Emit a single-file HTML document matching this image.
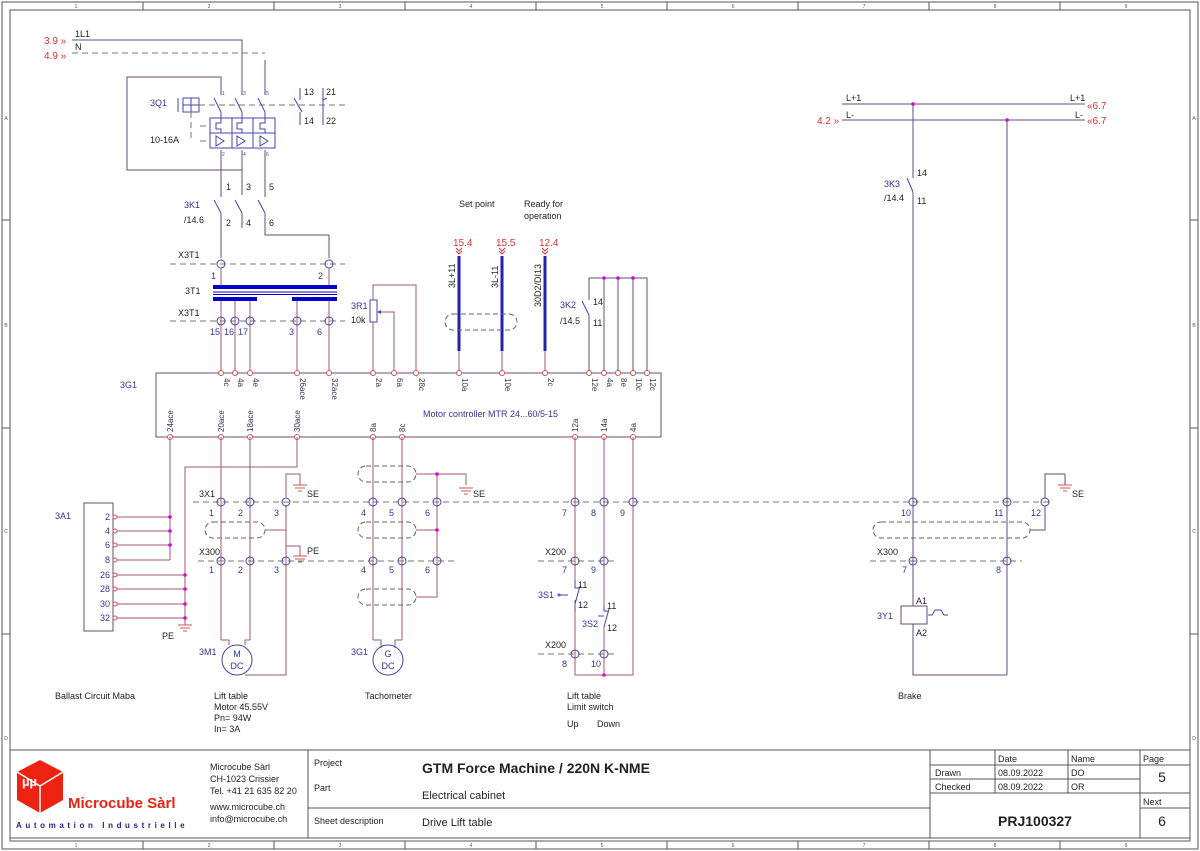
<!DOCTYPE html>
<html><head><meta charset="utf-8"><style>
body{margin:0;background:#fff}
svg{display:block;font-family:"Liberation Sans",Arial,sans-serif}
.w{stroke:#a05a70;stroke-width:1;fill:none}
.p{stroke:#6a4a7a;stroke-width:1;fill:none}
.d{stroke:#777;stroke-width:1;stroke-dasharray:6,4;fill:none}
.t{fill:#222;font-size:9px}
.b{fill:#33339a;font-size:9px}
.r{fill:#d33;font-size:10px}
.k{fill:none;stroke:#44a;stroke-width:1}
.o{fill:none;stroke:#666;stroke-dasharray:5,3}
.dot{fill:#d0d}
.f{fill:none;stroke:#555;stroke-width:1}
</style></head><body>
<svg width="1200" height="851" viewBox="0 0 1200 851">
<!-- frame -->
<rect x="2" y="2" width="1196" height="847" class="f"/>
<rect x="10" y="10" width="1180" height="831" class="f"/>
<g class="f">
<line x1="143" y1="2" x2="143" y2="10"/><line x1="274" y1="2" x2="274" y2="10"/><line x1="405" y1="2" x2="405" y2="10"/><line x1="536" y1="2" x2="536" y2="10"/><line x1="667" y1="2" x2="667" y2="10"/><line x1="798" y1="2" x2="798" y2="10"/><line x1="929" y1="2" x2="929" y2="10"/><line x1="1060" y1="2" x2="1060" y2="10"/>
<line x1="143" y1="841" x2="143" y2="849"/><line x1="274" y1="841" x2="274" y2="849"/><line x1="405" y1="841" x2="405" y2="849"/><line x1="536" y1="841" x2="536" y2="849"/><line x1="667" y1="841" x2="667" y2="849"/><line x1="798" y1="841" x2="798" y2="849"/><line x1="929" y1="841" x2="929" y2="849"/><line x1="1060" y1="841" x2="1060" y2="849"/>
<line x1="2" y1="220" x2="10" y2="220"/><line x1="2" y1="428" x2="10" y2="428"/><line x1="2" y1="634" x2="10" y2="634"/>
<line x1="1190" y1="220" x2="1198" y2="220"/><line x1="1190" y1="428" x2="1198" y2="428"/><line x1="1190" y1="634" x2="1198" y2="634"/>
</g>
<g font-size="5" fill="#555" text-anchor="middle">
<text x="76" y="8">1</text><text x="209" y="8">2</text><text x="340" y="8">3</text><text x="471" y="8">4</text><text x="602" y="8">5</text><text x="733" y="8">6</text><text x="864" y="8">7</text><text x="995" y="8">8</text><text x="1126" y="8">9</text>
<text x="76" y="847">1</text><text x="209" y="847">2</text><text x="340" y="847">3</text><text x="471" y="847">4</text><text x="602" y="847">5</text><text x="733" y="847">6</text><text x="864" y="847">7</text><text x="995" y="847">8</text><text x="1126" y="847">9</text>
<text x="6" y="120">A</text><text x="6" y="327">B</text><text x="6" y="533">C</text><text x="6" y="740">D</text>
<text x="1194" y="120">A</text><text x="1194" y="327">B</text><text x="1194" y="533">C</text><text x="1194" y="740">D</text>
</g>

<!-- top supply -->
<text class="r" x="44" y="44">3.9 »</text><text class="r" x="44" y="59">4.9 »</text>
<text class="t" x="75" y="37">1L1</text><text class="t" x="75" y="50">N</text>
<polyline class="p" points="72,40 242,40 242,90"/>
<polyline class="d" points="72,53 265,53"/><line class="p" x1="265" y1="60" x2="265" y2="90"/>
<polyline class="p" points="221,90 221,77 127,77 127,170 242,170 242,150"/>
<text class="b" x="150" y="106">3Q1</text><text class="t" x="150" y="143">10-16A</text>
<rect x="183" y="98" width="16" height="14" class="k"/><line x1="191" y1="98" x2="191" y2="112" class="k"/><line x1="183" y1="105" x2="199" y2="105" class="k"/><line x1="178" y1="98" x2="178" y2="112" class="k"/>
<line class="d" x1="199" y1="105" x2="345" y2="105"/>
<line class="d" x1="191" y1="112" x2="191" y2="141"/>
<g class="k">
<line x1="221" y1="90" x2="221" y2="95"/><line x1="214" y1="98" x2="221" y2="112"/><line x1="221" y1="112" x2="221" y2="118"/>
<line x1="242" y1="90" x2="242" y2="95"/><line x1="235" y1="98" x2="242" y2="112"/><line x1="242" y1="112" x2="242" y2="118"/>
<line x1="265" y1="90" x2="265" y2="95"/><line x1="258" y1="98" x2="265" y2="112"/><line x1="265" y1="112" x2="265" y2="118"/>
<rect x="210" y="118" width="65" height="30"/><line x1="210" y1="133" x2="275" y2="133"/><line x1="232" y1="118" x2="232" y2="148"/><line x1="253" y1="118" x2="253" y2="148"/>
<path d="M221 118v5h-5v6h5v4M242 118v5h-5v6h5v4M265 118v5h-5v6h5v4"/>
<path d="M216 136l8 5-8 5zM237 136l8 5-8 5zM260 136l8 5-8 5z"/>
<line x1="300" y1="88" x2="300" y2="100"/><line x1="294" y1="98" x2="302" y2="112"/><line x1="300" y1="112" x2="300" y2="125"/>
<line x1="323" y1="88" x2="323" y2="125"/><line x1="323" y1="100" x2="327" y2="98"/>
</g>
<line class="d" x1="200" y1="126" x2="210" y2="126"/><line class="d" x1="200" y1="141" x2="210" y2="141"/>
<g font-size="5" fill="#44a"><text x="222" y="95">1</text><text x="243" y="95">3</text><text x="266" y="95">5</text><text x="222" y="156">2</text><text x="243" y="156">4</text><text x="266" y="156">6</text></g>
<text class="t" x="304" y="95">13</text><text class="t" x="326" y="95">21</text><text class="t" x="304" y="124">14</text><text class="t" x="326" y="124">22</text>
<!-- 3K1 -->
<line class="p" x1="221" y1="150" x2="221" y2="197"/><line class="p" x1="242" y1="150" x2="242" y2="195"/><line class="p" x1="265" y1="150" x2="265" y2="197"/>
<g class="k"><line x1="214" y1="200" x2="221" y2="213"/><line x1="235" y1="200" x2="242" y2="213"/><line x1="258" y1="200" x2="265" y2="213"/></g>
<line class="p" x1="221" y1="213" x2="221" y2="258"/><line class="p" x1="242" y1="213" x2="242" y2="228"/>
<polyline class="p" points="265,213 265,235 329,235 329,258"/>
<text class="t" x="226" y="190">1</text><text class="t" x="246" y="190">3</text><text class="t" x="269" y="190">5</text>
<text class="t" x="226" y="226">2</text><text class="t" x="246" y="226">4</text><text class="t" x="269" y="226">6</text>
<text class="b" x="184" y="208">3K1</text><text class="t" x="184" y="223">/14.6</text>
<!-- X3T1 -->
<text class="t" x="178" y="258">X3T1</text>
<line class="d" x1="170" y1="264" x2="345" y2="264"/>
<circle cx="221" cy="264" r="4" fill="#fff" class="k"/><circle cx="329" cy="264" r="4" fill="#fff" class="k"/>
<text class="b" x="211" y="279">1</text><text class="b" x="318" y="279">2</text>
<text class="t" x="185" y="294">3T1</text>
<rect x="213" y="285" width="124" height="4" fill="#00c"/>
<line x1="213" y1="292" x2="337" y2="292" stroke="#00c"/><line x1="213" y1="294.5" x2="337" y2="294.5" stroke="#00c"/>
<rect x="213" y="297" width="44" height="4" fill="#00c"/><rect x="292" y="297" width="45" height="4" fill="#00c"/>
<line class="w" x1="221" y1="268" x2="221" y2="285"/><line class="w" x1="329" y1="268" x2="329" y2="285"/>
<text class="t" x="178" y="316">X3T1</text>
<line class="d" x1="170" y1="321" x2="345" y2="321"/>
<g class="w"><line x1="221" y1="301" x2="221" y2="373"/><line x1="235" y1="301" x2="235" y2="373"/><line x1="250" y1="301" x2="250" y2="373"/><line x1="297" y1="301" x2="297" y2="373"/><line x1="329" y1="301" x2="329" y2="373"/></g>
<g fill="#fff" class="k"><circle cx="221" cy="321" r="4"/><circle cx="235" cy="321" r="4"/><circle cx="250" cy="321" r="4"/><circle cx="297" cy="321" r="4"/><circle cx="329" cy="321" r="4"/></g>
<g class="b"><text x="210" y="335">15</text><text x="224" y="335">16</text><text x="238" y="335">17</text><text x="289" y="335">3</text><text x="317" y="335">6</text></g>
<!-- 3R1 -->
<text class="b" x="351" y="309">3R1</text><text class="t" x="351" y="323">10k</text>
<rect x="370" y="300" width="7" height="22" class="k"/>
<polyline class="w" points="373,300 373,285 416,285 416,373"/>
<line class="w" x1="373" y1="322" x2="373" y2="373"/>
<polyline class="w" points="379,312 394,312 394,373"/><path d="M377 312l4-2v4z" fill="#44a"/>
<!-- 3G1 -->
<rect x="156" y="373" width="505" height="64" class="p"/>
<text class="b" x="120" y="388" font-size="10">3G1</text>
<text class="b" x="423" y="417">Motor controller MTR 24...60/5-15</text>
<g fill="#fff" stroke="#c55" stroke-width="1">
<circle cx="221" cy="373" r="2.5"/><circle cx="235" cy="373" r="2.5"/><circle cx="250" cy="373" r="2.5"/><circle cx="297" cy="373" r="2.5"/><circle cx="329" cy="373" r="2.5"/><circle cx="373" cy="373" r="2.5"/><circle cx="394" cy="373" r="2.5"/><circle cx="416" cy="373" r="2.5"/><circle cx="459" cy="373" r="2.5"/><circle cx="502" cy="373" r="2.5"/><circle cx="545" cy="373" r="2.5"/><circle cx="589" cy="373" r="2.5"/><circle cx="604" cy="373" r="2.5"/><circle cx="618" cy="373" r="2.5"/><circle cx="633" cy="373" r="2.5"/><circle cx="647" cy="373" r="2.5"/>
<circle cx="170" cy="437" r="2.5"/><circle cx="221" cy="437" r="2.5"/><circle cx="250" cy="437" r="2.5"/><circle cx="297" cy="437" r="2.5"/><circle cx="373" cy="437" r="2.5"/><circle cx="402" cy="437" r="2.5"/><circle cx="575" cy="437" r="2.5"/><circle cx="604" cy="437" r="2.5"/><circle cx="633" cy="437" r="2.5"/>
</g>
<g font-size="8" fill="#335">
<text transform="translate(224,378) rotate(90)">4c</text><text transform="translate(238,378) rotate(90)">4a</text><text transform="translate(253,378) rotate(90)">4e</text><text transform="translate(300,378) rotate(90)">26ace</text><text transform="translate(332,378) rotate(90)">32ace</text><text transform="translate(376,378) rotate(90)">2a</text><text transform="translate(397,378) rotate(90)">6a</text><text transform="translate(419,378) rotate(90)">28c</text><text transform="translate(462,378) rotate(90)">10a</text><text transform="translate(505,378) rotate(90)">10e</text><text transform="translate(548,378) rotate(90)">2c</text><text transform="translate(592,378) rotate(90)">12e</text><text transform="translate(607,378) rotate(90)">4a</text><text transform="translate(621,378) rotate(90)">8e</text><text transform="translate(636,378) rotate(90)">10c</text><text transform="translate(650,378) rotate(90)">12c</text>
<text transform="translate(173,432) rotate(-90)">24ace</text><text transform="translate(224,432) rotate(-90)">20ace</text><text transform="translate(253,432) rotate(-90)">18ace</text><text transform="translate(300,432) rotate(-90)">30ace</text><text transform="translate(376,432) rotate(-90)">8a</text><text transform="translate(405,432) rotate(-90)">8c</text><text transform="translate(578,432) rotate(-90)">12a</text><text transform="translate(607,432) rotate(-90)">14a</text><text transform="translate(636,432) rotate(-90)">4a</text>
</g>
<!-- set points -->
<text class="t" x="459" y="207">Set point</text><text class="t" x="524" y="207">Ready for</text><text class="t" x="524" y="219">operation</text>
<text class="r" x="453" y="246">15.4</text><text class="r" x="496" y="246">15.5</text><text class="r" x="539" y="246">12.4</text>
<g fill="none" stroke="#d33"><path d="M456 248l3 3 3-3M456 251l3 3 3-3M499 248l3 3 3-3M499 251l3 3 3-3M542 248l3 3 3-3M542 251l3 3 3-3"/></g>
<rect x="457.5" y="256" width="3" height="95" fill="#22a"/><rect x="500.5" y="256" width="3" height="95" fill="#22a"/><rect x="543.5" y="256" width="3" height="95" fill="#22a"/>
<g class="w"><line x1="459" y1="351" x2="459" y2="371"/><line x1="502" y1="351" x2="502" y2="371"/><line x1="545" y1="351" x2="545" y2="371"/></g>
<g font-size="9" fill="#222"><text transform="translate(455,288) rotate(-90)">3L+11</text><text transform="translate(498,288) rotate(-90)">3L-11</text><text transform="translate(541,307) rotate(-90)">30D2/DI13</text></g>
<rect x="445" y="314" width="72" height="16" rx="8" class="o"/>
<!-- 3K2 -->
<polyline class="p" points="589,371 589,278 647,278 647,371"/>
<line class="p" x1="604" y1="278" x2="604" y2="371"/><line class="p" x1="618" y1="278" x2="618" y2="371"/><line class="p" x1="633" y1="278" x2="633" y2="371"/>
<rect x="586" y="300" width="6" height="22" fill="#fff"/><line class="k" x1="582" y1="301" x2="589" y2="315"/>
<line class="p" x1="589" y1="315" x2="589" y2="322"/>
<circle class="dot" cx="604" cy="278" r="1.8"/><circle class="dot" cx="618" cy="278" r="1.8"/><circle class="dot" cx="633" cy="278" r="1.8"/>
<text class="b" x="560" y="308">3K2</text><text class="t" x="560" y="324">/14.5</text><text class="t" x="593" y="305">14</text><text class="t" x="593" y="326">11</text>
<!-- bottom wiring -->
<g class="w">
<line x1="170" y1="437" x2="170" y2="560"/>
<line x1="221" y1="437" x2="221" y2="640"/><line x1="250" y1="437" x2="250" y2="640"/>
<polyline points="297,437 297,467 185,467 185,625"/>
<line x1="373" y1="437" x2="373" y2="640"/><line x1="402" y1="437" x2="402" y2="640"/>
<line x1="575" y1="437" x2="575" y2="580"/><line x1="604" y1="437" x2="604" y2="605"/>
<polyline points="633,437 633,675 575,675 575,600"/>
<polyline points="221,640 229,640 229,645"/><polyline points="250,640 245,640 245,645"/>
<polyline points="286,505 286,675 245,675"/>
<polyline points="286,497 286,474 300,474 300,485"/>
<polyline points="286,556 286,546 300,546 300,556"/>
<polyline points="265,530 286,530"/>
<polyline points="373,640 381,640 381,648"/><polyline points="402,640 395,640 395,648"/>
<polyline points="416,474 437,474 437,597 416,597"/><line x1="416" y1="530" x2="437" y2="530"/>
<polyline points="437,474 466,474 466,485"/>
<line x1="604" y1="628" x2="604" y2="675"/>
</g>
<!-- 3A1 -->
<text class="b" x="55" y="519">3A1</text>
<rect x="84" y="503" width="29" height="128" class="p"/>
<g class="w"><line x1="116" y1="517" x2="170" y2="517"/><line x1="116" y1="531" x2="170" y2="531"/><line x1="116" y1="545" x2="170" y2="545"/><line x1="116" y1="560" x2="170" y2="560"/><line x1="116" y1="575" x2="185" y2="575"/><line x1="116" y1="589" x2="185" y2="589"/><line x1="116" y1="604" x2="185" y2="604"/><line x1="116" y1="618" x2="185" y2="618"/></g>
<g fill="#fff" stroke="#c55"><circle cx="115" cy="517" r="2"/><circle cx="115" cy="531" r="2"/><circle cx="115" cy="545" r="2"/><circle cx="115" cy="560" r="2"/><circle cx="115" cy="575" r="2"/><circle cx="115" cy="589" r="2"/><circle cx="115" cy="604" r="2"/><circle cx="115" cy="618" r="2"/></g>
<g class="dot"><circle cx="170" cy="517" r="1.8"/><circle cx="170" cy="531" r="1.8"/><circle cx="170" cy="545" r="1.8"/><circle cx="185" cy="575" r="1.8"/><circle cx="185" cy="589" r="1.8"/><circle cx="185" cy="604" r="1.8"/><circle cx="185" cy="618" r="1.8"/><circle cx="437" cy="474" r="1.8"/><circle cx="437" cy="530" r="1.8"/><circle cx="604" cy="675" r="1.8"/></g>
<g class="b" text-anchor="end" font-size="8"><text x="110" y="520">2</text><text x="110" y="534">4</text><text x="110" y="548">6</text><text x="110" y="563">8</text><text x="110" y="578">26</text><text x="110" y="592">28</text><text x="110" y="607">30</text><text x="110" y="621">32</text></g>
<!-- grounds -->
<g stroke="#c55" fill="none"><path d="M178 625h14M180 628h10M183 631h4"/><path d="M293 485h14M295 488h10M298 491h4"/><path d="M293 556h14M295 559h10M298 562h4"/><path d="M459 488h14M461 491h10M464 494h4"/><path d="M1058 485h14M1060 488h10M1063 491h4"/></g>
<text class="t" x="162" y="639">PE</text><text class="t" x="307" y="497">SE</text><text class="t" x="307" y="554">PE</text><text class="t" x="473" y="497">SE</text><text class="t" x="1072" y="497">SE</text>
<!-- terminal rows -->
<text class="t" x="199" y="497">3X1</text>
<line class="d" x1="193" y1="502" x2="1052" y2="502"/>
<text class="t" x="199" y="555">X300</text><line class="d" x1="198" y1="561" x2="455" y2="561"/>
<text class="t" x="545" y="555">X200</text><line class="d" x1="538" y1="561" x2="616" y2="561"/>
<text class="t" x="877" y="555">X300</text><line class="d" x1="870" y1="561" x2="1022" y2="561"/>
<text class="t" x="545" y="648">X200</text><line class="d" x1="538" y1="654" x2="616" y2="654"/>
<g fill="#fff" class="k">
<circle cx="221" cy="502" r="4"/><circle cx="250" cy="502" r="4"/><circle cx="286" cy="502" r="4"/><circle cx="373" cy="502" r="4"/><circle cx="402" cy="502" r="4"/><circle cx="437" cy="502" r="4"/><circle cx="575" cy="502" r="4"/><circle cx="604" cy="502" r="4"/><circle cx="633" cy="502" r="4"/><circle cx="913" cy="502" r="4"/><circle cx="1007" cy="502" r="4"/><circle cx="1045" cy="502" r="4"/>
<circle cx="221" cy="561" r="4"/><circle cx="250" cy="561" r="4"/><circle cx="286" cy="561" r="4"/><circle cx="373" cy="561" r="4"/><circle cx="402" cy="561" r="4"/><circle cx="437" cy="561" r="4"/><circle cx="575" cy="561" r="4"/><circle cx="604" cy="561" r="4"/><circle cx="913" cy="561" r="4"/><circle cx="1007" cy="561" r="4"/>
<circle cx="575" cy="654" r="4"/><circle cx="604" cy="654" r="4"/>
</g>
<g class="b"><text x="209" y="516">1</text><text x="238" y="516">2</text><text x="274" y="516">3</text><text x="361" y="516">4</text><text x="389" y="516">5</text><text x="425" y="516">6</text><text x="562" y="516">7</text><text x="591" y="516">8</text><text x="620" y="516">9</text><text x="901" y="516">10</text><text x="994" y="516">11</text><text x="1031" y="516">12</text>
<text x="209" y="573">1</text><text x="238" y="573">2</text><text x="274" y="573">3</text><text x="361" y="573">4</text><text x="389" y="573">5</text><text x="425" y="573">6</text><text x="562" y="573">7</text><text x="591" y="573">9</text><text x="902" y="573">7</text><text x="996" y="573">8</text>
<text x="562" y="667">8</text><text x="591" y="667">10</text></g>
<!-- cable ovals -->
<rect x="205" y="522" width="60" height="16" rx="8" class="o"/>
<rect x="358" y="466" width="58" height="16" rx="8" class="o"/>
<rect x="358" y="522" width="58" height="16" rx="8" class="o"/>
<rect x="358" y="589" width="58" height="16" rx="8" class="o"/>
<rect x="873" y="522" width="157" height="16" rx="8" class="o"/>
<!-- motor/gen -->
<circle cx="237" cy="660" r="15" fill="#fff" class="k"/><text class="b" x="237" y="657" text-anchor="middle">M</text><text class="b" x="237" y="669" text-anchor="middle">DC</text>
<text class="b" x="199" y="655">3M1</text>
<circle cx="388" cy="660" r="15" fill="#fff" class="k"/><text class="b" x="388" y="657" text-anchor="middle">G</text><text class="b" x="388" y="669" text-anchor="middle">DC</text>
<text class="b" x="351" y="655">3G1</text>
<!-- limit switches -->
<g class="k"><polyline points="575,580 575,588 580,588"/><line x1="580" y1="586" x2="575" y2="604"/><line x1="575" y1="603" x2="575" y2="612"/><line x1="568" y1="595" x2="560" y2="595"/><circle cx="559" cy="595" r="1"/>
<polyline points="604,605 604,611 609,611"/><line x1="609" y1="609" x2="604" y2="627"/><line x1="598" y1="616" x2="604" y2="616"/></g>
<line class="w" x1="575" y1="612" x2="575" y2="650"/><line class="w" x1="575" y1="658" x2="575" y2="675"/><line class="w" x1="604" y1="627" x2="604" y2="650"/>
<text class="b" x="538" y="598">3S1</text><text class="t" x="578" y="588" font-size="8">11</text><text class="t" x="578" y="608" font-size="8">12</text>
<text class="b" x="582" y="627">3S2</text><text class="t" x="607" y="609" font-size="8">11</text><text class="t" x="607" y="631" font-size="8">12</text>
<!-- brake -->
<text class="t" x="846" y="101">L+1</text><text class="t" x="846" y="118">L-</text><text class="t" x="1070" y="101">L+1</text><text class="t" x="1075" y="118">L-</text>
<line class="p" x1="842" y1="104" x2="1085" y2="104"/><line class="p" x1="842" y1="120" x2="1085" y2="120"/>
<text class="r" x="817" y="124">4.2 »</text><text class="r" x="1087" y="109">«6.7</text><text class="r" x="1087" y="124">«6.7</text>
<circle class="dot" cx="913" cy="104" r="1.8"/><circle class="dot" cx="1007" cy="120" r="1.8"/>
<line class="p" x1="913" y1="104" x2="913" y2="178"/><line class="k" x1="907" y1="178" x2="913" y2="192"/>
<line class="p" x1="913" y1="192" x2="913" y2="606"/>
<line class="p" x1="1007" y1="120" x2="1007" y2="675"/>
<polyline class="p" points="913,624 913,675 1007,675"/>
<text class="b" x="884" y="187">3K3</text><text class="t" x="884" y="201">/14.4</text><text class="t" x="917" y="176" font-size="8">14</text><text class="t" x="917" y="204" font-size="8">11</text>
<polyline class="p" points="1030,530 1045,530 1045,506"/><polyline class="p" points="1045,498 1045,474 1065,474 1065,485"/>
<rect x="901" y="606" width="26" height="18" fill="#fff" class="p"/>
<path d="M928 615h4l3-5h6l3 5h4" class="k"/>
<text class="b" x="877" y="619">3Y1</text><text class="t" x="916" y="604" font-size="8">A1</text><text class="t" x="916" y="636" font-size="8">A2</text>
<!-- bottom captions -->
<text class="t" x="55" y="699">Ballast  Circuit  Maba</text>
<text class="t" x="214" y="699">Lift table</text><text class="t" x="214" y="710">Motor 45.55V</text><text class="t" x="214" y="721">Pn= 94W</text><text class="t" x="214" y="732">In= 3A</text>
<text class="t" x="365" y="699">Tachometer</text>
<text class="t" x="567" y="699">Lift table</text><text class="t" x="567" y="710">Limit switch</text><text class="t" x="567" y="727">Up</text><text class="t" x="597" y="727">Down</text>
<text class="t" x="898" y="699">Brake</text>
<!-- title block -->
<rect x="10" y="750" width="1180" height="88" class="f"/>
<line class="f" x1="308" y1="750" x2="308" y2="838"/><line class="f" x1="930" y1="750" x2="930" y2="838"/>
<line class="f" x1="308" y1="808" x2="930" y2="808"/>
<line class="f" x1="930" y1="765" x2="1190" y2="765"/><line class="f" x1="930" y1="779" x2="1140" y2="779"/><line class="f" x1="930" y1="793" x2="1190" y2="793"/><line class="f" x1="1140" y1="808" x2="1190" y2="808"/>
<line class="f" x1="995" y1="750" x2="995" y2="793"/><line class="f" x1="1068" y1="750" x2="1068" y2="793"/><line class="f" x1="1140" y1="750" x2="1140" y2="838"/>
<g font-size="9" fill="#222">
<text x="998" y="762">Date</text><text x="1071" y="762">Name</text><text x="1143" y="762">Page</text>
<text x="935" y="776">Drawn</text><text x="998" y="776">08.09.2022</text><text x="1071" y="776">DO</text>
<text x="935" y="790">Checked</text><text x="998" y="790">08.09.2022</text><text x="1071" y="790">OR</text>
<text x="1143" y="805">Next</text>
<text x="314" y="766">Project</text><text x="314" y="791">Part</text><text x="314" y="824">Sheet description</text>
<text x="210" y="770">Microcube Sàrl</text><text x="210" y="782">CH-1023 Crissier</text><text x="210" y="794">Tel. +41 21 635 82 20</text><text x="210" y="810">www.microcube.ch</text><text x="210" y="822">info@microcube.ch</text>
</g>
<text x="1162" y="782" font-size="14" text-anchor="middle" fill="#222">5</text>
<text x="1162" y="826" font-size="14" text-anchor="middle" fill="#222">6</text>
<text x="1035" y="826" font-size="14" font-weight="bold" text-anchor="middle" fill="#222">PRJ100327</text>
<text x="422" y="773" font-size="14" font-weight="bold" fill="#222">GTM Force Machine / 220N K-NME</text>
<text x="422" y="799" font-size="11" fill="#222">Electrical cabinet</text>
<text x="422" y="826" font-size="11" fill="#222">Drive Lift table</text>
<!-- logo -->
<path d="M17 772 L40 760 L63 772 L63 800 L40 813 L17 800Z" fill="#e21"/>
<path d="M40 786 L63 772 M40 786 L17 772 M40 786 L40 813" stroke="#fff" stroke-width="1.5"/>
<text x="22" y="786" font-size="13" font-weight="bold" fill="#fff">µµ</text>
<text x="68" y="808" font-size="15" font-weight="bold" fill="#e21">Microcube Sàrl</text>
<text x="16" y="828" font-size="8" font-weight="bold" fill="#228" letter-spacing="3.6">Automation Industrielle</text>
</svg>
</body></html>
